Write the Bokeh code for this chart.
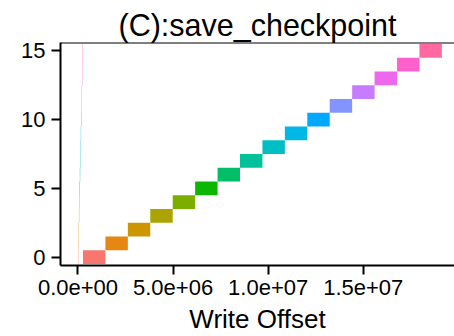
from bokeh.plotting import figure
from bokeh.models import FixedTicker, Span, ColumnDataSource
from bokeh.embed import file_html
from bokeh.resources import INLINE

ranks = list(range(16))
colors = ["#F8766D", "#E68613", "#CD9600", "#ABA300", "#7CAE00", "#0CB702",
          "#00BE67", "#00C19A", "#00BFC4", "#00B8E7", "#00A9FF", "#8494FF",
          "#C77CFF", "#ED68ED", "#FF61CC", "#FF68A1"]

# small header writes
small_offsets = [0, 16384, 32768, 49152, 65536, 81920, 98304, 114688, 131072,
                 147456, 163840, 180224, 196608, 212992, 229376, 245760]
small_lengths = [16384] * 16

# large data writes
big_offsets = [262144, 1441792, 2621440, 3801088, 4980736, 6160384, 7340032,
               8519680, 9699328, 10878976, 12058624, 13238272, 14417920,
               15597568, 16777216, 17956864]
big_lengths = [1179648] * 16

x_ticks = [0, 5e6, 1e7, 1.5e7]
x_tick_labels = ["0.0e+00", "5.0e+06", "1.0e+07", "1.5e+07"]
y_ticks = [0, 5, 10, 15]

FONT = "Liberation Sans"

p = figure(width=454, height=336, output_backend="svg", toolbar_location=None,
           x_range=(-0.92e6, 19.8e6), y_range=(-0.6, 15.6),
           min_border_left=60, min_border_right=0, min_border_top=42,
           min_border_bottom=71, title="(C):save_checkpoint")

p.title.text_font = FONT
p.title.text_font_size = "30.5px"
p.title.text_font_style = "normal"
p.title.text_color = "black"
p.title.align = "center"
p.title.standoff = 2

small_src = ColumnDataSource(dict(
    left=small_offsets,
    right=[o + l for o, l in zip(small_offsets, small_lengths)],
    bottom=[r - 0.5 for r in ranks], top=[r + 0.5 for r in ranks],
    color=colors))
big_src = ColumnDataSource(dict(
    left=big_offsets,
    right=[o + l for o, l in zip(big_offsets, big_lengths)],
    bottom=[r - 0.5 for r in ranks], top=[r + 0.5 for r in ranks],
    color=colors))

p.quad(left="left", right="right", bottom="bottom", top="top", source=small_src,
       fill_color="color", line_color=None, fill_alpha=1.0)
p.quad(left="left", right="right", bottom="bottom", top="top", source=big_src,
       fill_color="color", line_color=None)

p.add_layout(Span(location=15.6, dimension="width", line_color="black",
                  line_width=2))

p.outline_line_color = None
p.grid.visible = False
p.background_fill_color = "white"
p.border_fill_color = "white"

for ax in (p.xaxis[0], p.yaxis[0]):
    ax.axis_line_color = "black"
    ax.axis_line_width = 2
    ax.major_tick_line_color = "black"
    ax.major_tick_line_width = 2
    ax.major_tick_out = 9
    ax.major_tick_in = 0
    ax.minor_tick_line_color = None
    ax.major_label_text_font = FONT
    ax.major_label_text_font_size = "22px"
    ax.major_label_text_color = "black"

p.xaxis.ticker = FixedTicker(ticks=x_ticks)
p.xaxis.major_label_overrides = {t: l for t, l in zip(x_ticks, x_tick_labels)}
p.xaxis.major_label_standoff = 5
p.xaxis.axis_label = "Write Offset"
p.xaxis.axis_label_text_font = FONT
p.xaxis.axis_label_text_font_size = "26px"
p.xaxis.axis_label_text_font_style = "normal"
p.xaxis.axis_label_text_color = "black"
p.xaxis.axis_label_standoff = 6

p.yaxis.ticker = FixedTicker(ticks=y_ticks)
p.yaxis.major_label_standoff = 6

open("out.html", "w").write(file_html(p, INLINE))
